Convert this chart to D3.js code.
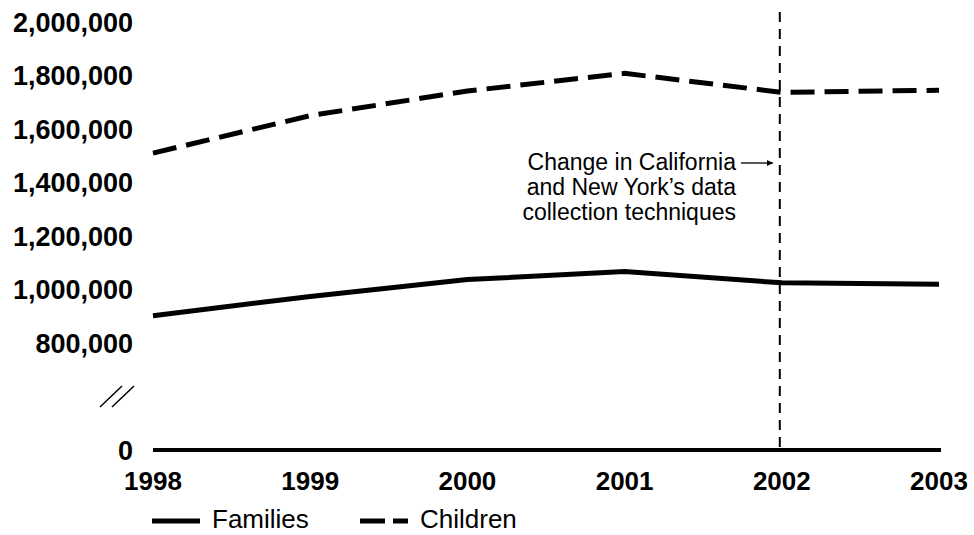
<!DOCTYPE html>
<html><head><meta charset="utf-8">
<script src="https://cdn.jsdelivr.net/npm/d3@7/dist/d3.min.js"></script>
<style>body{margin:0;background:#fff}svg{display:block}text{font-family:"Liberation Sans",Arial,Helvetica,sans-serif;fill:#000}</style>
</head><body>
<svg id="c" width="974" height="535"></svg>
<script>
const years = [1998, 1999, 2000, 2001, 2002, 2003];
const families = [902000, 974000, 1037000, 1067000, 1025000, 1020000];
const children = [1510000, 1650000, 1742000, 1808000, 1737000, 1745000];
const yTicks = [0, 800000, 1000000, 1200000, 1400000, 1600000, 1800000, 2000000];
const seriesNames = ["Families", "Children"];
const changeYear = 2002;
const noteLines = ["Change in California", "and New York\u2019s data", "collection techniques"];

const svg = d3.select("#c");
const x = d3.scaleLinear().domain([1998, 2003]).range([153, 939]);
const y = d3.scaleLinear().domain([0, 800000, 2000000]).range([450, 343, 22]);

// y tick labels
const fmt = d3.format(",");
svg.append("g").selectAll("text").data(yTicks).join("text")
  .attr("x", 133).attr("y", d => y(d)).attr("dy", "0.36em")
  .attr("text-anchor", "end").attr("font-size", 27).attr("font-weight", "bold")
  .text(d => fmt(d));

// x tick labels
svg.append("g").selectAll("text").data(years).join("text")
  .attr("x", d => x(d)).attr("y", 490)
  .attr("text-anchor", "middle").attr("font-size", 26).attr("font-weight", "bold")
  .text(d => d);

// axis break marks
const brk = svg.append("g").attr("stroke", "#000").attr("stroke-width", 1.5);
brk.append("line").attr("x1", 100).attr("y1", 407).attr("x2", 122).attr("y2", 386);
brk.append("line").attr("x1", 112).attr("y1", 407).attr("x2", 134).attr("y2", 386);

// vertical dashed line
svg.append("line").attr("x1", x(changeYear) - 2).attr("x2", x(changeYear) - 2)
  .attr("y1", 12).attr("y2", 450)
  .attr("stroke", "#000").attr("stroke-width", 2).attr("stroke-dasharray", "10,7");

// baseline axis
svg.append("line").attr("x1", 153).attr("x2", 941).attr("y1", y(0)).attr("y2", y(0))
  .attr("stroke", "#000").attr("stroke-width", 4);

const line = d3.line().x((d, i) => x(years[i])).y(d => y(d));
svg.append("path").datum(families).attr("d", line)
  .attr("fill", "none").attr("stroke", "#000").attr("stroke-width", 5).attr("stroke-linejoin", "round");
svg.append("path").datum(children).attr("d", line)
  .attr("fill", "none").attr("stroke", "#000").attr("stroke-width", 5)
  .attr("stroke-dasharray", "24,10");

// annotation
const note = svg.append("text").attr("text-anchor", "end").attr("font-size", 23);
noteLines.forEach((t, i) => note.append("tspan").attr("x", 736).attr("y", 170 + i * 25).text(t));
svg.append("defs").append("marker").attr("id", "ah").attr("viewBox", "0 0 10 10")
  .attr("refX", 10).attr("refY", 5).attr("markerWidth", 6).attr("markerHeight", 6)
  .attr("markerUnits", "userSpaceOnUse").attr("orient", "auto")
  .append("path").attr("d", "M0,0L10,5L0,10Z").attr("fill", "#000");
svg.append("line").attr("x1", 741).attr("x2", 773).attr("y1", 163).attr("y2", 163)
  .attr("stroke", "#000").attr("stroke-width", 1.3).attr("marker-end", "url(#ah)");

// legend
const lg = svg.append("g");
lg.append("line").attr("x1", 152).attr("x2", 200).attr("y1", 521).attr("y2", 521)
  .attr("stroke", "#000").attr("stroke-width", 5);
lg.append("text").attr("x", 212).attr("y", 528).attr("font-size", 26).text(seriesNames[0]);
lg.append("line").attr("x1", 360).attr("x2", 408).attr("y1", 521).attr("y2", 521)
  .attr("stroke", "#000").attr("stroke-width", 5).attr("stroke-dasharray", "25,8");
lg.append("text").attr("x", 420).attr("y", 528).attr("font-size", 26).text(seriesNames[1]);
</script>
</body></html>
